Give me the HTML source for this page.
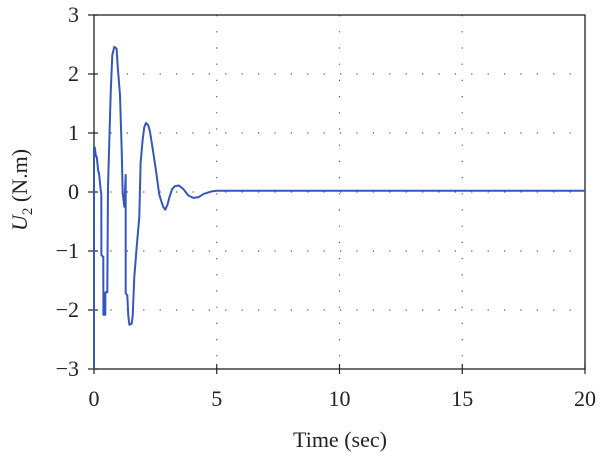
<!DOCTYPE html>
<html><head><meta charset="utf-8"><style>
body{margin:0;background:#fff;}
svg{display:block;font-family:"Liberation Serif",serif;}
</style></head><body>
<svg id="chart" width="600" height="459">
<g id="grid"></g>
<g id="axes"></g>
<path id="series" fill="none" stroke="#3558b8" stroke-width="2" stroke-linejoin="round"></path>
<text x="340" y="447" font-size="22" text-anchor="middle" fill="#222">Time (sec)</text>
<text transform="translate(27,190) rotate(-90)" font-size="22" text-anchor="middle" fill="#222"><tspan font-style="italic">U</tspan><tspan font-size="15" dy="5">2</tspan><tspan dy="-5"> (N.m)</tspan></text>
</svg>
<script>
const xTicks=[0,5,10,15,20];
const yTicks=[-3,-2,-1,0,1,2,3];
const times=[0,0.001,0.027,0.081,0.109,0.176,0.204,0.271,0.299,0.3,0.38,0.381,0.462,0.463,0.543,0.57,0.68,0.747,0.828,0.92,0.96,1.06,1.127,1.168,1.195,1.236,1.29,1.291,1.358,1.398,1.44,1.535,1.575,1.643,1.738,1.846,1.9,1.98,2.05,2.12,2.21,2.28,2.39,2.53,2.65,2.73,2.82,2.9,2.99,3.07,3.18,3.3,3.46,3.64,3.84,4.05,4.25,4.48,4.79,5.0,20];
const values=[-3,0.76,0.76,0.6,0.6,0.35,0.32,0.03,-0.03,-1.07,-1.1,-2.08,-2.08,-1.7,-1.7,0.09,1.68,2.32,2.46,2.43,2.15,1.64,0.71,-0.03,-0.1,-0.25,0.29,-1.72,-1.75,-2.1,-2.25,-2.23,-2.1,-1.44,-0.93,-0.42,0.49,0.88,1.1,1.17,1.13,1.02,0.73,0.35,-0.03,-0.14,-0.25,-0.3,-0.22,-0.09,0.05,0.1,0.11,0.05,-0.06,-0.1,-0.09,-0.03,0.01,0.02,0.02];
const X0=94,X1=585,Y0=369,Y1=15;
const sx=t=>X0+(t-0)/(20-0)*(X1-X0);
const sy=v=>Y0-(v+3)/6*(Y0-Y1);
const NS="http://www.w3.org/2000/svg";
const grid=document.getElementById('grid'),axes=document.getElementById('axes');
function mk(tag,attrs,parent){const e=document.createElementNS(NS,tag);for(const k in attrs)e.setAttribute(k,attrs[k]);parent.appendChild(e);return e;}
xTicks.forEach(t=>{
  if(t>0&&t<20){const g=mk('line',{x1:sx(t),x2:sx(t),y1:Y1,y2:Y0,stroke:'#555','stroke-width':1.2,'stroke-dasharray':'1.2 15'},grid);
  
  }
  const tk=mk('line',{x1:sx(t),x2:sx(t),y1:Y0-5,y2:Y0+5,stroke:'#222','stroke-width':1.2},axes);
  
  
  const lb=mk('text',{x:sx(t),y:406,'font-size':22,'text-anchor':'middle',fill:'#222'},axes);
  lb.textContent=t;
  
  
});
yTicks.forEach(v=>{
  if(v>-3&&v<3){const g=mk('line',{x1:X0,x2:X1,y1:sy(v),y2:sy(v),stroke:'#555','stroke-width':1.2,'stroke-dasharray':'1.2 15.2'},grid);
  
  }
  const tk=mk('line',{x1:X0-6,x2:X0+4,y1:sy(v),y2:sy(v),stroke:'#222','stroke-width':1.2},axes);
  
  
  const lb=mk('text',{x:79,y:sy(v)+7,'font-size':22,'text-anchor':'end',fill:'#222'},axes);
  lb.textContent=v<0?'\u2212'+(-v):v;
  
  
});
const fr=mk('rect',{x:X0,y:Y1,width:X1-X0,height:Y0-Y1,fill:'none',stroke:'#222','stroke-width':1.3},axes);


document.getElementById('series').setAttribute('d',times.map((t,i)=>(i?'L':'M')+sx(t).toFixed(1)+' '+sy(values[i]).toFixed(1)).join(' '));
</script>
</body></html>
